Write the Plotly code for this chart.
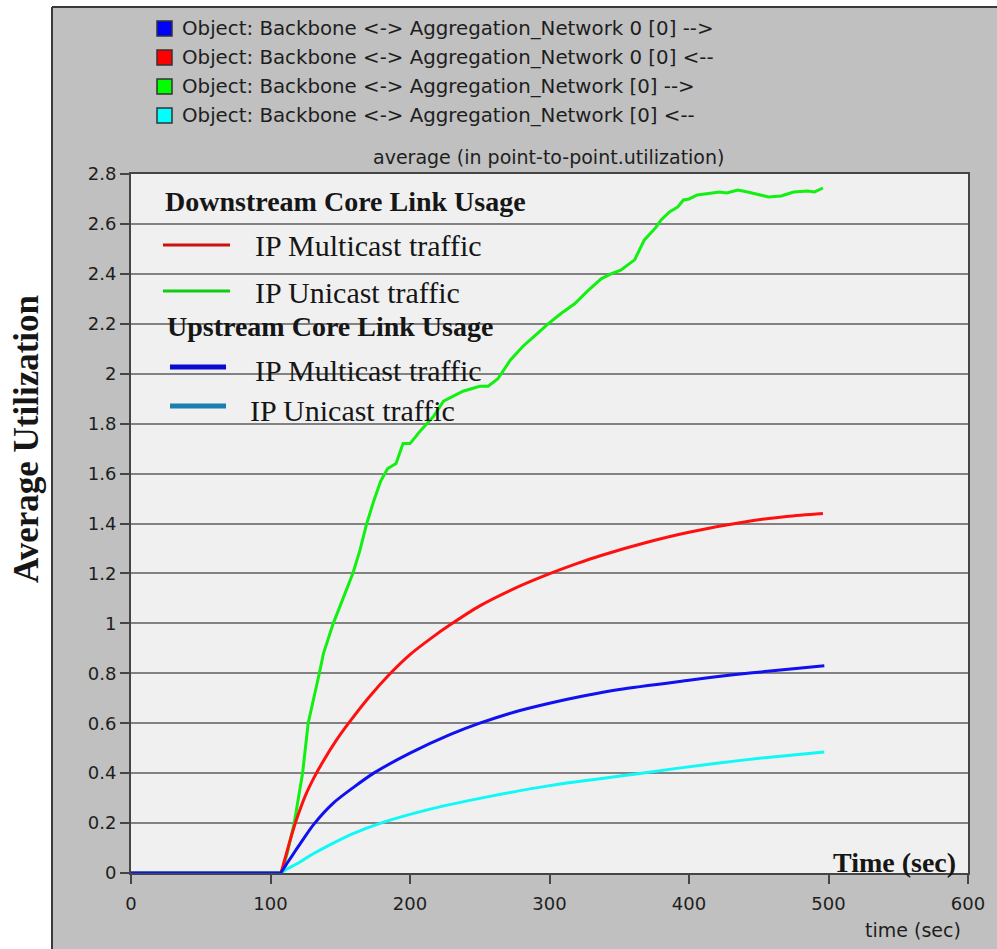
import plotly.graph_objects as go

# ---- data -------------------------------------------------------------
x_ticks = [0, 100, 200, 300, 400, 500, 600]
y_ticks = [0, 0.2, 0.4, 0.6, 0.8, 1, 1.2, 1.4, 1.6, 1.8, 2, 2.2, 2.4, 2.6, 2.8]

# downstream, unicast  (Aggregation_Network [0] -->)
t_green = [0, 105, 108, 112, 117, 123, 127, 135, 138, 145, 152, 159, 164, 169, 174,
           179, 184, 190, 195, 200, 208, 217, 224, 231, 238, 244, 250, 256, 263, 272,
           281, 291, 299, 308, 318, 327, 337, 344, 351, 361, 368, 376, 380, 386, 392,
           396, 400, 406, 413, 422, 427, 435, 442, 450, 457, 466, 475, 485, 490, 496]
v_green = [0, 0, 0, 0.08, 0.2, 0.4, 0.6, 0.8, 0.88, 1.0, 1.1, 1.2, 1.29, 1.4, 1.49,
           1.57, 1.62, 1.64, 1.72, 1.72, 1.775, 1.83, 1.89, 1.91, 1.93, 1.94, 1.95, 1.95, 1.98, 2.055,
           2.11, 2.16, 2.2, 2.24, 2.28, 2.33, 2.38, 2.40, 2.415, 2.456, 2.536, 2.584, 2.616, 2.648, 2.668,
           2.696, 2.70, 2.716, 2.72, 2.728, 2.724, 2.736, 2.728, 2.716, 2.708, 2.712, 2.728, 2.732, 2.728, 2.744]

# downstream, multicast  (Aggregation_Network 0 [0] <--)
t_red = [0, 50, 100, 105, 107, 110, 114, 119, 125, 131, 138, 147, 156, 170, 186, 200,
         215, 229, 250, 275, 297, 320, 337, 370, 400, 444, 470, 496]
v_red = [0, 0, 0, 0, 0, 0.05, 0.13, 0.22, 0.31, 0.38, 0.45, 0.53, 0.6, 0.7, 0.8, 0.875,
         0.94, 0.995, 1.07, 1.14, 1.192, 1.24, 1.272, 1.325, 1.365, 1.41, 1.428, 1.44]

# upstream, unicast  (Aggregation_Network [0] <--)
t_cyan = [0, 50, 100, 105, 108, 110, 120, 130, 145, 160, 179, 200, 225, 251, 300, 366,
          420, 460, 497]
v_cyan = [0, 0, 0, 0, 0, 0.01, 0.04, 0.075, 0.12, 0.16, 0.2, 0.235, 0.27, 0.3, 0.35, 0.4,
          0.44, 0.465, 0.485]

# upstream, multicast  (Aggregation_Network 0 [0] -->)
t_blue = [0, 50, 100, 105, 107, 112, 118, 124, 131, 145, 160, 174, 200, 229, 250, 275,
          300, 325, 350, 400, 430, 460, 497]
v_blue = [0, 0, 0, 0, 0, 0.04, 0.09, 0.14, 0.195, 0.28, 0.345, 0.4, 0.48, 0.555, 0.6, 0.645,
          0.68, 0.71, 0.735, 0.772, 0.793, 0.81, 0.83]

series_names = [
    "Object: Backbone <-> Aggregation_Network 0 [0] -->",
    "Object: Backbone <-> Aggregation_Network 0 [0] <--",
    "Object: Backbone <-> Aggregation_Network [0] -->",
    "Object: Backbone <-> Aggregation_Network [0] <--",
]
series_colors = ["#0000ff", "#ff0000", "#00ff00", "#00ffff"]

# ---- page geometry (pixels) -------------------------------------------
W, H = 997, 949
ML, MR, MT, MB = 131, 29, 174, 76
PW, PH = W - ML - MR, H - MT - MB


def px(x):
    return (x - ML) / PW


def py(y):
    return (H - MB - y) / PH


SANS = "DejaVu Sans"
SERIF = "Liberation Serif"

fig = go.Figure()
fig.add_trace(go.Scatter(x=t_green, y=v_green, mode="lines", name=series_names[2],
                         line=dict(color="#11f011", width=3)))
fig.add_trace(go.Scatter(x=t_red, y=v_red, mode="lines", name=series_names[1],
                         line=dict(color="#ff1010", width=3, shape="spline", smoothing=0.8)))
fig.add_trace(go.Scatter(x=t_cyan, y=v_cyan, mode="lines", name=series_names[3],
                         line=dict(color="#10f8f8", width=3, shape="spline", smoothing=0.8)))
fig.add_trace(go.Scatter(x=t_blue, y=v_blue, mode="lines", name=series_names[0],
                         line=dict(color="#1010f0", width=3, shape="spline", smoothing=0.8)))

shapes = []
annotations = []

# white margin strips around the grey panel, plus the panel's edge lines
shapes.append(dict(type="rect", xref="paper", yref="paper", x0=px(-5), x1=px(52),
                   y0=py(H + 5), y1=py(-5), fillcolor="white", line_width=0, layer="below"))
shapes.append(dict(type="rect", xref="paper", yref="paper", x0=px(-5), x1=px(W + 5),
                   y0=py(7), y1=py(-5), fillcolor="white", line_width=0, layer="below"))
shapes.append(dict(type="line", xref="paper", yref="paper", x0=px(52), x1=px(52),
                   y0=py(7), y1=py(H + 5), line=dict(color="#3a3a3a", width=2)))
shapes.append(dict(type="line", xref="paper", yref="paper", x0=px(52), x1=px(W + 5),
                   y0=py(7), y1=py(7), line=dict(color="#3a3a3a", width=2)))

# series key with coloured squares
for i, k in enumerate([0, 1, 2, 3]):
    cy = 28.5 + i * 29
    shapes.append(dict(type="rect", xref="paper", yref="paper",
                       x0=px(157), x1=px(172), y0=py(cy + 7.5), y1=py(cy - 7.5),
                       fillcolor=series_colors[k], line=dict(color="#333333", width=1.5)))
    annotations.append(dict(xref="paper", yref="paper", x=px(180), y=py(cy),
                            xanchor="left", yanchor="middle", showarrow=False,
                            text=series_names[k],
                            font=dict(family=SANS, size=19.8, color="#1e1e1e")))

annotations.append(dict(xref="paper", yref="paper", x=px(548), y=py(157),
                        xanchor="center", yanchor="middle", showarrow=False,
                        text="average (in point-to-point.utilization)",
                        font=dict(family=SANS, size=19, color="#1e1e1e")))
annotations.append(dict(xref="paper", yref="paper", x=px(963), y=py(930),
                        xanchor="right", yanchor="middle", showarrow=False,
                        text="time (sec)",
                        font=dict(family=SANS, size=19, color="#1e1e1e")))

# in-plot key
key_rows = [
    ("<b>Downstream Core Link Usage</b>", 163, 202, 28, None),
    ("IP Multicast traffic", 253, 245, 30, ("#cc1111", 163, 230, 245, 3)),
    ("IP Unicast traffic", 253, 292, 30, ("#11cc11", 163, 230, 291, 3)),
    ("<b>Upstream Core Link Usage</b>", 165, 326, 28, None),
    ("IP Multicast traffic", 253, 370, 30, ("#0a0ad0", 170, 226, 367, 5)),
    ("IP Unicast traffic", 248, 410, 30, ("#1a80b0", 170, 226, 406, 5)),
]
for text, tx, ty, size, seg in key_rows:
    annotations.append(dict(xref="paper", yref="paper", x=px(tx), y=py(ty),
                            xanchor="left", yanchor="middle", showarrow=False,
                            text=text, font=dict(family=SERIF, size=size, color="#161616")))
    if seg:
        c, x0, x1, yy, w = seg
        shapes.append(dict(type="line", xref="paper", yref="paper",
                           x0=px(x0), x1=px(x1), y0=py(yy), y1=py(yy),
                           line=dict(color=c, width=w)))

annotations.append(dict(xref="paper", yref="paper", x=px(958), y=py(862),
                        xanchor="right", yanchor="middle", showarrow=False,
                        text="<b>Time (sec)</b>",
                        font=dict(family=SERIF, size=28, color="#161616")))
annotations.append(dict(xref="paper", yref="paper", x=px(26), y=py(439),
                        xanchor="center", yanchor="middle", showarrow=False,
                        textangle=-90, text="<b>Average Utilization</b>",
                        font=dict(family=SERIF, size=35, color="#161616")))

fig.update_layout(
    width=W, height=H,
    margin=dict(l=ML, r=MR, t=MT, b=MB, pad=0),
    paper_bgcolor="#c0c0c0",
    plot_bgcolor="#f0f0f0",
    showlegend=False,
    shapes=shapes,
    annotations=annotations,
)
fig.update_xaxes(range=[0, 600], tickvals=x_ticks, showgrid=False, zeroline=False,
                 showline=True, mirror=True, linecolor="#454545", linewidth=2,
                 ticks="outside", ticklen=9, tickwidth=1.5, tickcolor="#454545",
                 ticklabelstandoff=4,
                 tickfont=dict(family=SANS, size=18, color="#1e1e1e"))
fig.update_yaxes(range=[0, 2.8], tickvals=y_ticks, showgrid=True, gridcolor="#828282",
                 gridwidth=2, zeroline=False,
                 showline=True, mirror=True, linecolor="#454545", linewidth=2,
                 ticks="outside", ticklen=9, tickwidth=1.5, tickcolor="#454545",
                 tickfont=dict(family=SANS, size=18, color="#1e1e1e"))

fig.write_html("out.html")
